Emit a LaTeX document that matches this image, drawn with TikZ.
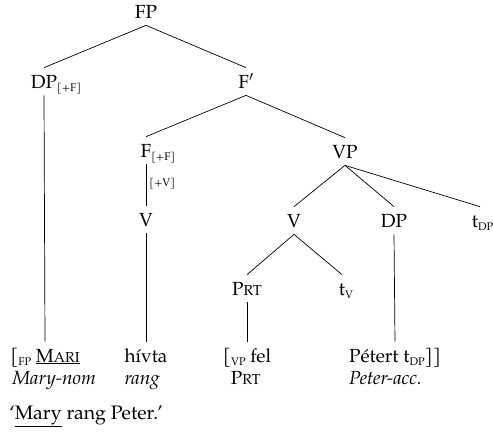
\documentclass[tikz,border=0pt]{standalone}
\usepackage{fontspec}
\setmainfont{texgyrepagella}[Extension=.otf, UprightFont=*-regular, ItalicFont=*-italic, BoldFont=*-bold, BoldItalicFont=*-bolditalic]
\usetikzlibrary{positioning}
\newcommand{\lsub}[1]{\raisebox{-0.4ex}{\fontsize{11}{11}\selectfont #1}}
\newcommand{\fakesc}[1]{{\fontsize{14.5}{14}\selectfont #1}}

\begin{document}
\begin{tikzpicture}[
x=1pt, y=-1pt, line width=0.7pt,
treenode/.style={anchor=base, inner xsep=0pt, inner ysep=7pt, text height=13pt, text depth=0pt, font=\fontsize{19}{23}\selectfont},
glossnode/.style={anchor=base west, inner sep=0pt, font=\fontsize{19}{23}\selectfont\itshape},
featnode/.style={anchor=west, inner sep=0pt, font=\fontsize{11}{11}\selectfont},
]
\useasboundingbox (0,0) rectangle (493,432);
%Nodes
\node[treenode] (FP)    at (146,18)  {FP};
\node[treenode] (DPf)   at (44,88)   {DP\rlap{\lsub{[+F]}}};
\node[treenode] (Fbar)  at (246,88)  {F$'$};
\node[treenode] (Ff)    at (146,157) {F\rlap{\lsub{[+F]}}};
\node[treenode] (VP)    at (345,158) {VP};
\node[treenode] (Vf)    at (146,226) {V};
\node[treenode] (V)     at (294,227) {V};
\node[treenode] (DP)    at (394,227) {DP};
\node[treenode] (tDP)   at (475,227) {t\rlap{\lsub{DP}}};
\node[treenode] (Prt)   at (247,295) {P\fakesc{RT}};
\node[treenode] (tV)    at (342,295) {t\rlap{\lsub{V}}};
\node[featnode] (featV) at (149,184) {[+V]};

%Leaves
\node[treenode] (lMari)   at (45,362)  {[\lsub{FP} \underline{M\fakesc{ARI}}};
\node[treenode] (lHivta)  at (146,362) {hívta};
\node[treenode] (lFel)    at (247,362) {[\lsub{VP} fel};
\node[treenode] (lPetert) at (395,362) {Pétert t\lsub{DP}]]};
\node[glossnode] (gMary)  at ([xshift=2pt,yshift=-22pt]lMari.base west)  {Mary-nom};
\node[glossnode] (gRang)  at ([yshift=-22pt]lHivta.base west)            {rang};
\node[glossnode, font=\fontsize{19}{23}\selectfont] (gPrt) at ([xshift=8pt,yshift=-22pt]lFel.base west) {P\fakesc{RT}};
\node[glossnode] (gPeter) at ([yshift=-22pt]lPetert.base west)           {Peter-acc.};
\node[anchor=base west, inner sep=0pt, font=\fontsize{19.5}{23}\selectfont] (transl) at (9,419) {‘\underline{Mary} rang Peter.’};

%Lines
\draw (FP.south) -- (DPf.north);
\draw (FP.south) -- (Fbar.north);
\draw (Fbar.south) -- (Ff.north);
\draw (Fbar.south) -- (VP.north);
\draw (Ff.south) -- (Vf.north);
\draw (VP.south) -- (V.north);
\draw (VP.south) -- (DP.north);
\draw (VP.south) -- ([xshift=5pt]tDP.north);
\draw (V.south) -- (Prt.north);
\draw (V.south) -- (tV.north);
\draw (DPf.south) -- (lMari.north);
\draw (Vf.south) -- (lHivta.north);
\draw (Prt.south) -- (lFel.north);
\draw (DP.south) -- (lPetert.north);
\end{tikzpicture}
\end{document}
